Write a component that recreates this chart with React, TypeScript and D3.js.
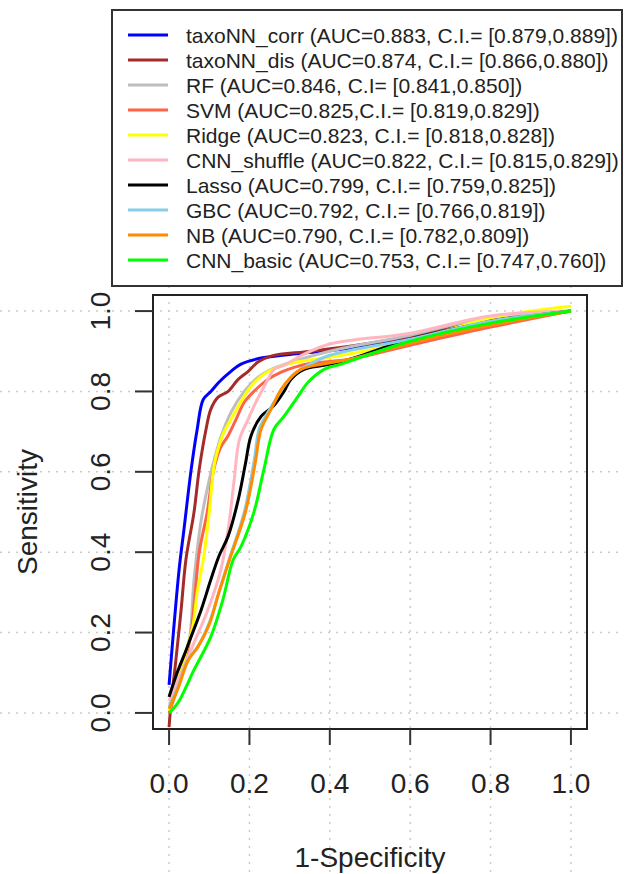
import { useEffect, useRef } from "react";
import * as d3 from "d3";

// ROC points as [1-specificity, sensitivity]
const taxoNNCorr = [
  [0, 0.07], [0.025, 0.357], [0.037, 0.456], [0.055, 0.606], [0.07, 0.706],
  [0.085, 0.78], [0.104, 0.8], [0.124, 0.823], [0.154, 0.85], [0.179, 0.868],
  [0.229, 0.883], [0.33, 0.895], [0.43, 0.905], [0.6, 0.932], [0.8, 0.972], [1, 1],
];
const taxoNNDis = [
  [0, -0.035], [0.005, 0.025], [0.017, 0.132], [0.03, 0.257], [0.042, 0.382],
  [0.062, 0.499], [0.075, 0.606], [0.092, 0.706], [0.104, 0.756], [0.122, 0.786],
  [0.147, 0.8], [0.172, 0.83], [0.197, 0.85], [0.221, 0.873], [0.254, 0.888],
  [0.353, 0.9], [0.5, 0.92], [0.6, 0.937], [0.8, 0.977], [1, 1],
];
const rf = [
  [0, 0.04], [0.03, 0.12], [0.05, 0.18], [0.062, 0.33], [0.08, 0.48], [0.1, 0.58],
  [0.115, 0.64], [0.13, 0.69], [0.154, 0.748], [0.187, 0.8], [0.221, 0.835],
  [0.254, 0.855], [0.311, 0.875], [0.4, 0.9], [0.6, 0.94], [0.8, 0.985], [1, 1],
];
const svm = [
  [0, 0], [0.02, 0.06], [0.04, 0.13], [0.055, 0.2], [0.065, 0.3], [0.075, 0.4],
  [0.095, 0.5], [0.11, 0.6], [0.128, 0.66], [0.147, 0.69], [0.167, 0.731],
  [0.187, 0.773], [0.211, 0.8], [0.246, 0.83], [0.279, 0.848], [0.311, 0.86],
  [0.353, 0.87], [0.45, 0.88], [0.6, 0.915], [0.8, 0.96], [1, 1],
];
const ridge = [
  [0, 0.005], [0.012, 0.05], [0.03, 0.107], [0.047, 0.17], [0.06, 0.22], [0.07, 0.3],
  [0.085, 0.38], [0.1, 0.5], [0.113, 0.62], [0.135, 0.695], [0.154, 0.73],
  [0.179, 0.775], [0.204, 0.813], [0.236, 0.843], [0.279, 0.863], [0.328, 0.875],
  [0.4, 0.885], [0.6, 0.925], [0.8, 0.983], [1, 1.012],
];
const cnnShuffle = [
  [0, 0.03], [0.03, 0.1], [0.06, 0.17], [0.09, 0.24], [0.112, 0.3], [0.129, 0.357],
  [0.147, 0.456], [0.162, 0.58], [0.175, 0.68], [0.197, 0.731], [0.211, 0.763],
  [0.229, 0.798], [0.246, 0.83], [0.261, 0.855], [0.286, 0.865], [0.33, 0.89],
  [0.4, 0.918], [0.6, 0.945], [0.8, 0.988], [1, 1],
];
const lasso = [
  [0, 0.04], [0.02, 0.1], [0.04, 0.15], [0.05, 0.177], [0.08, 0.257], [0.104, 0.332],
  [0.124, 0.39], [0.147, 0.44], [0.172, 0.53], [0.19, 0.62], [0.204, 0.69],
  [0.229, 0.738], [0.261, 0.765], [0.286, 0.8], [0.303, 0.83], [0.336, 0.855],
  [0.386, 0.865], [0.45, 0.88], [0.6, 0.93], [0.8, 0.973], [1, 1],
];
const gbc = [
  [0, 0.015], [0.022, 0.065], [0.047, 0.132], [0.072, 0.165], [0.1, 0.224],
  [0.124, 0.3], [0.149, 0.38], [0.187, 0.499], [0.211, 0.623], [0.224, 0.706],
  [0.236, 0.731], [0.261, 0.773], [0.286, 0.813], [0.311, 0.843], [0.336, 0.86],
  [0.4, 0.89], [0.6, 0.93], [0.8, 0.975], [1, 1],
];
const nb = [
  [0, 0.01], [0.022, 0.06], [0.047, 0.13], [0.072, 0.165], [0.1, 0.22], [0.124, 0.3],
  [0.15, 0.38], [0.19, 0.5], [0.214, 0.62], [0.229, 0.706], [0.254, 0.756],
  [0.279, 0.805], [0.303, 0.835], [0.328, 0.855], [0.353, 0.863], [0.45, 0.88],
  [0.6, 0.92], [0.8, 0.965], [1, 1],
];
const cnnBasic = [
  [0, 0], [0.022, 0.025], [0.062, 0.107], [0.104, 0.19], [0.134, 0.282], [0.159, 0.38],
  [0.179, 0.414], [0.211, 0.499], [0.236, 0.606], [0.261, 0.706], [0.286, 0.738],
  [0.321, 0.788], [0.346, 0.823], [0.386, 0.855], [0.428, 0.868], [0.6, 0.925],
  [0.8, 0.97], [1, 1],
];

const seriesData = [taxoNNCorr, taxoNNDis, rf, svm, ridge, cnnShuffle, lasso, gbc, nb, cnnBasic];
const legendLabels = [
  "taxoNN_corr (AUC=0.883, C.I.= [0.879,0.889])",
  "taxoNN_dis (AUC=0.874, C.I.= [0.866,0.880])",
  "RF (AUC=0.846, C.I= [0.841,0.850])",
  "SVM (AUC=0.825,C.I.= [0.819,0.829])",
  "Ridge (AUC=0.823, C.I.= [0.818,0.828])",
  "CNN_shuffle (AUC=0.822, C.I.= [0.815,0.829])",
  "Lasso (AUC=0.799, C.I.= [0.759,0.825])",
  "GBC (AUC=0.792, C.I.= [0.766,0.819])",
  "NB (AUC=0.790, C.I.= [0.782,0.809])",
  "CNN_basic (AUC=0.753, C.I.= [0.747,0.760])",
];
const lineColors = [
  "#0000ff", "#a52a2a", "#bebebe", "#ff6347", "#ffff00",
  "#ffb6c1", "#000000", "#87ceeb", "#ff8c00", "#00ff00",
];
const tickValues = [0, 0.2, 0.4, 0.6, 0.8, 1.0];

const W = 624;
const H = 874;
const FONT = "'Liberation Sans', Arial, sans-serif";

export default function App() {
  const svgRef = useRef<SVGSVGElement>(null);

  useEffect(() => {
    const svg = d3.select(svgRef.current);
    svg.selectAll("*").remove();

    const box = { left: 153, right: 587, top: 295, bottom: 729 };
    const x = d3.scaleLinear().domain([-0.04, 1.04]).range([box.left, box.right]);
    const y = d3.scaleLinear().domain([-0.04, 1.04]).range([box.bottom, box.top]);

    svg.append("rect").attr("width", W).attr("height", H).attr("fill", "white");

    // dotted grid, runs past the plot box like the original
    const grid = svg.append("g")
      .attr("stroke", "#cccccc")
      .attr("stroke-width", 1.5)
      .attr("stroke-dasharray", "2,6");
    tickValues.forEach((t) => {
      grid.append("line").attr("x1", 0).attr("x2", W).attr("y1", y(t)).attr("y2", y(t));
      grid.append("line").attr("x1", x(t)).attr("x2", x(t)).attr("y1", 286).attr("y2", H);
    });

    // curves
    const line = d3.line<number[]>()
      .x((d) => x(d[0]))
      .y((d) => y(d[1]))
      .curve(d3.curveCatmullRom.alpha(0.5));

    seriesData.forEach((pts, i) => {
      svg.append("path")
        .attr("d", line(pts))
        .attr("fill", "none")
        .attr("stroke", lineColors[i])
        .attr("stroke-width", 3)
        .attr("stroke-linejoin", "round");
    });

    // plot box
    svg.append("rect")
      .attr("x", box.left).attr("y", box.top)
      .attr("width", box.right - box.left).attr("height", box.bottom - box.top)
      .attr("fill", "none").attr("stroke", "#222").attr("stroke-width", 2);

    // x axis ticks + labels
    tickValues.forEach((t) => {
      svg.append("line")
        .attr("x1", x(t)).attr("x2", x(t))
        .attr("y1", box.bottom).attr("y2", box.bottom + 16)
        .attr("stroke", "#333").attr("stroke-width", 2);
      svg.append("text")
        .attr("x", x(t)).attr("y", 793)
        .attr("text-anchor", "middle")
        .attr("font-family", FONT).attr("font-size", 28).attr("fill", "#222")
        .text(d3.format(".1f")(t));
    });

    // y axis ticks + rotated labels
    tickValues.forEach((t) => {
      svg.append("line")
        .attr("x1", box.left - 18).attr("x2", box.left)
        .attr("y1", y(t)).attr("y2", y(t))
        .attr("stroke", "#333").attr("stroke-width", 2);
      svg.append("text")
        .attr("transform", `translate(110,${y(t)}) rotate(-90)`)
        .attr("text-anchor", "middle")
        .attr("font-family", FONT).attr("font-size", 28).attr("fill", "#222")
        .text(d3.format(".1f")(t));
    });

    svg.append("text")
      .attr("x", (x(0) + x(1)) / 2).attr("y", 867)
      .attr("text-anchor", "middle")
      .attr("font-family", FONT).attr("font-size", 28).attr("fill", "#222")
      .text("1-Specificity");

    svg.append("text")
      .attr("transform", `translate(37,${(y(0) + y(1)) / 2}) rotate(-90)`)
      .attr("text-anchor", "middle")
      .attr("font-family", FONT).attr("font-size", 28).attr("fill", "#222")
      .text("Sensitivity");

    // legend
    const legend = svg.append("g");
    legend.append("rect")
      .attr("x", 112).attr("y", 10).attr("width", 510).attr("height", 276)
      .attr("fill", "white").attr("stroke", "#333").attr("stroke-width", 2);

    legendLabels.forEach((label, i) => {
      const cy = 35 + i * 25;
      legend.append("line")
        .attr("x1", 128).attr("x2", 168).attr("y1", cy).attr("y2", cy)
        .attr("stroke", lineColors[i]).attr("stroke-width", 3);
      legend.append("text")
        .attr("x", 186).attr("y", cy)
        .attr("dy", "0.36em")
        .attr("font-family", FONT).attr("font-size", 21).attr("fill", "#222")
        .text(label);
    });
  }, []);

  return (
    <svg
      ref={svgRef}
      width={W}
      height={H}
      style={{ position: "absolute", left: 0, top: 0 }}
    />
  );
}
